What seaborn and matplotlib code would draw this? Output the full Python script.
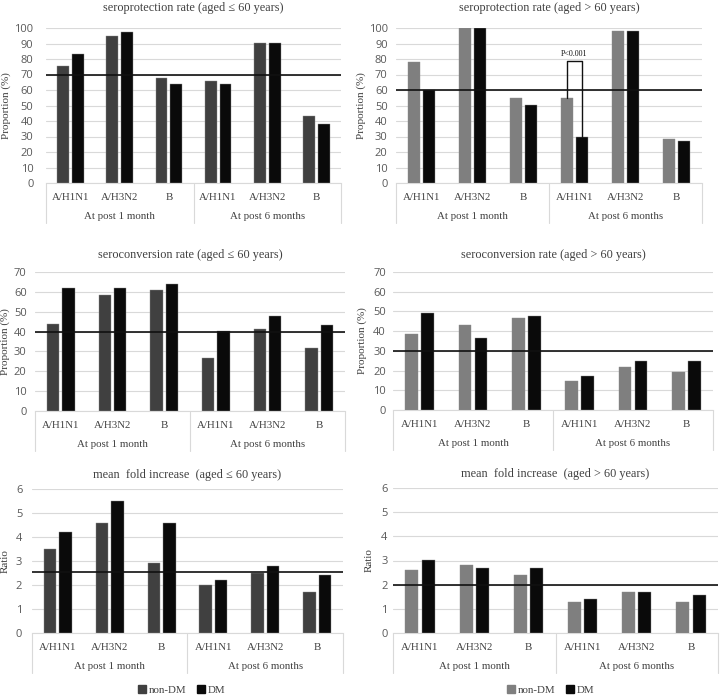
import numpy as np
import pandas as pd
import matplotlib
matplotlib.use("Agg")
import matplotlib.pyplot as plt
import matplotlib.transforms as mtransforms
from matplotlib.lines import Line2D
import seaborn as sns

# ---------------- data ----------------
strains = ["A/H1N1", "A/H3N2", "B"]
timepoints = ["At post 1 month", "At post 6 months"]
groups = ["non-DM", "DM"]

titles = [
    "seroprotection rate (aged \u2264 60 years)",
    "seroprotection rate (aged > 60 years)",
    "seroconversion rate (aged \u2264 60 years)",
    "seroconversion rate (aged > 60 years)",
    "mean  fold increase  (aged \u2264 60 years)",
    "mean  fold increase  (aged > 60 years)",
]
ylabels = ["Proportion (%)", "Proportion (%)", "Proportion (%)",
           "Proportion (%)", "Ratio", "Ratio"]

sp_young_nondm = [75.6, 94.8, 67.6, 65.7, 90.3, 43.2]
sp_young_dm = [83.2, 97.4, 63.7, 63.7, 90.3, 38.0]
sp_old_nondm = [77.8, 100, 55.1, 55.1, 98.0, 28.1]
sp_old_dm = [60.0, 100, 50.5, 30.0, 98.0, 26.8]
sc_young_nondm = [43.9, 58.2, 60.9, 26.9, 41.4, 31.6]
sc_young_dm = [62.0, 62.0, 64.1, 40.2, 47.6, 43.1]
sc_old_nondm = [38.5, 43.2, 46.9, 14.7, 22.0, 19.5]
sc_old_dm = [49.0, 36.6, 47.5, 17.5, 25.1, 25.1]
mfi_young_nondm = [3.49, 4.6, 2.92, 2.0, 2.49, 1.7]
mfi_young_dm = [4.19, 5.5, 4.6, 2.22, 2.81, 2.42]
mfi_old_nondm = [2.6, 2.8, 2.38, 1.29, 1.71, 1.3]
mfi_old_dm = [3.03, 2.68, 2.68, 1.42, 1.71, 1.58]

thresholds = [70, 60, 40, 30, 2.56, 2.0]
ymax = [100, 100, 70, 70, 6, 6]
ystep = [10, 10, 10, 10, 1, 1]
pvalue_text = "P<0.001"

series = [
    (sp_young_nondm, sp_young_dm),
    (sp_old_nondm, sp_old_dm),
    (sc_young_nondm, sc_young_dm),
    (sc_old_nondm, sc_old_dm),
    (mfi_young_nondm, mfi_young_dm),
    (mfi_old_nondm, mfi_old_dm),
]

# ---------------- style ----------------
sns.set_theme(style="white")
SERIF = ["Liberation Serif", "DejaVu Serif"]
SANS = ["Open Sans", "DejaVu Sans"]
plt.rcParams["font.family"] = SERIF

W, H = 720, 695
fig = plt.figure(figsize=(W / 100, H / 100), dpi=100)

# axes boxes in pixels: (x0, x1, ytop, ybottom)
boxes = [
    (46, 341, 28, 183),
    (396, 702, 28, 183),
    (35, 345, 272, 411),
    (393, 713, 272, 410),
    (32, 343, 489, 633),
    (393, 718, 488, 633),
]
title_pads = [12, 12, 10, 10, 8, 8]
ylabel_x = [11, 366, 10, 367, 10, 374]
tick_pads = [9, 6, 6, 5, 7, 4]

dark_gray = "#404040"
mid_gray = "#7f7f7f"
dm_color = "#0a0a0a"
text_col = "#404040"
tick_col = "#595959"
grid_col = "#d9d9d9"

keys = [f"{t}|{s}" for t in timepoints for s in strains]
cat_labels = [s for t in timepoints for s in strains]

for i, ((nd, dm), (x0, x1, yt, yb)) in enumerate(zip(series, boxes)):
    ax = fig.add_axes([x0 / W, 1 - yb / H, (x1 - x0) / W, (yb - yt) / H])
    hpx = yb - yt
    wpx = x1 - x0
    df = pd.DataFrame({
        "key": keys * 2,
        "group": [groups[0]] * 6 + [groups[1]] * 6,
        "value": list(nd) + list(dm),
    })
    nd_col = dark_gray if i % 2 == 0 else mid_gray
    sns.barplot(data=df, x="key", y="value", hue="group", order=keys,
                hue_order=groups, palette=[nd_col, dm_color],
                width=0.6, gap=0.2, errorbar=None, legend=False, ax=ax,
                edgecolor="#8c8c8c", linewidth=0.3, zorder=3)
    ax.set_xlim(-0.5, 5.5)
    ax.set_ylim(0, ymax[i])
    ax.set_yticks(np.arange(0, ymax[i] + ystep[i] / 2, ystep[i]))
    ax.yaxis.grid(True, color=grid_col, linewidth=0.8, zorder=0)
    ax.set_axisbelow(True)
    for s in ["top", "right", "left"]:
        ax.spines[s].set_visible(False)
    ax.spines["bottom"].set_color(grid_col)
    ax.spines["bottom"].set_linewidth(0.8)
    ax.tick_params(axis="y", length=0, pad=tick_pads[i], labelcolor=tick_col,
                   labelsize=8)
    for lab in ax.get_yticklabels():
        lab.set_family(SANS)
    ax.set_xticks([])
    ax.set_xlabel("")
    ax.set_ylabel(ylabels[i], fontsize=8, color=text_col)
    ax.yaxis.set_label_coords((ylabel_x[i] - x0) / wpx, 0.5)
    ax.set_title(titles[i], fontsize=8.8, color=text_col, pad=title_pads[i])

    # reference line
    ax.axhline(thresholds[i], color="#111111", linewidth=1.2, zorder=4)

    # multi-level category axis
    trans = mtransforms.blended_transform_factory(ax.transData, ax.transAxes)
    cat_y = -14.5 / hpx
    grp_y = -33.5 / hpx
    box_y = -39.5 / hpx
    for k, lab in enumerate(cat_labels):
        ax.text(k, cat_y, lab, transform=trans, ha="center", va="center",
                fontsize=7.8, color=text_col)
    for g, lab in enumerate(timepoints):
        ax.text(1 + 3 * g, grp_y, lab, transform=trans, ha="center",
                va="center", fontsize=7.8, color=text_col)
    for xv in (-0.5, 2.5, 5.5):
        ax.plot([xv, xv], [0, box_y], transform=trans, color=grid_col,
                linewidth=0.8, clip_on=False)

    # significance bracket
    if i == 1:
        bars = ax.patches
        p_nd = [b for b in bars if abs(b.get_x() + b.get_width() / 2 - 3) < 0.5]
        p_nd = sorted(p_nd, key=lambda b: b.get_x())
        xa = p_nd[0].get_x() + p_nd[0].get_width() / 2
        xb = p_nd[1].get_x() + p_nd[1].get_width() / 2
        ya, yb2 = nd[3], dm[3]
        top = 79
        ax.plot([xa, xa, xb, xb], [ya, top, top, yb2], color="#111111",
                linewidth=1.0, zorder=5)
        ax.text((xa + xb) / 2, top + 4.5, pvalue_text, ha="center",
                va="center", fontsize=5.8, color="#111111", zorder=5)

    # legend under bottom row
    if i >= 4:
        handles = [Line2D([], [], marker="s", linestyle="", markersize=6,
                          color=c) for c in (nd_col, dm_color)]
        cx = 181 if i == 4 else 550
        ax.legend(handles, groups, loc="center", ncol=2, frameon=False,
                  bbox_to_anchor=((cx - x0) / wpx, -(690 - yb) / hpx),
                  handletextpad=0.15, columnspacing=0.8, handlelength=1.0,
                  prop={"family": SERIF, "size": 7.8},
                  labelcolor=text_col)

fig.savefig("out.png", dpi=100, facecolor="white")
